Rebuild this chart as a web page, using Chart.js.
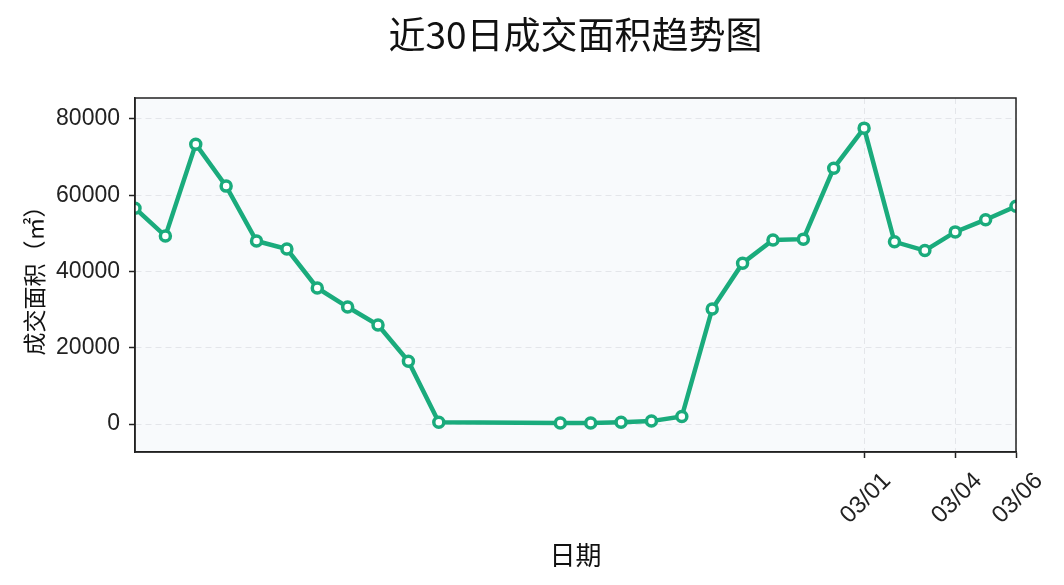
<!DOCTYPE html>
<html>
<head>
<meta charset="utf-8">
<script src="https://cdn.jsdelivr.net/npm/chart.js@4.4.1/dist/chart.umd.min.js"></script>
<style>
    html, body { margin: 0; background: #fff; }
</style>
</head>
<body>
<canvas id="trendChart" width="1064" height="585"></canvas>
<script>
// 近30日成交面积 (㎡)，春节期间 02/16-02/18 无数据
const dates = ['02/05', '02/06', '02/07', '02/08', '02/09', '02/10', '02/11', '02/12', '02/13', '02/14', '02/15',
    '02/19', '02/20', '02/21', '02/22', '02/23', '02/24', '02/25', '02/26', '02/27', '02/28',
    '03/01', '03/02', '03/03', '03/04', '03/05', '03/06'];
const areas = [56600, 49300, 73400, 62400, 48000, 45900, 35700, 30700, 26000, 16500, 500,
    300, 300, 500, 800, 2000, 30200, 42200, 48300, 48500, 67100,
    77600, 47800, 45500, 50400, 53600, 57100];
const xTickDates = ['03/01', '03/04', '03/06'];
const yTicks = [0, 20000, 40000, 60000, 80000];
const yRange = [-7300, 85500];
const YEAR = 2025;
const TITLE = '近30日成交面积趋势图';

const GREEN = '#1aab7c';
const AXIS = '#222222';
const GRID = '#e4e6ea';
const LATIN = '"Liberation Sans", Arial, sans-serif';
const CJK = '"Noto Sans CJK SC", "Noto Sans", sans-serif';

const dayNum = s => {
    const [m, d] = s.split('/').map(Number);
    return Date.UTC(YEAR, m - 1, d) / 86400000;
};
const fmtDay = n => {
    const dt = new Date(n * 86400000);
    return String(dt.getUTCMonth() + 1).padStart(2, '0') + '/' + String(dt.getUTCDate()).padStart(2, '0');
};

const points = dates.map((d, i) => ({ x: dayNum(d), y: areas[i] }));

// 绘图区底色、四周边框、居中标题
const plotFrame = {
    id: 'plotFrame',
    beforeDraw: (chart) => {
        const { ctx, chartArea: a } = chart;
        ctx.save();
        ctx.fillStyle = '#f8fafc';
        ctx.fillRect(a.left, a.top, a.width, a.height);
        ctx.restore();
    },
    afterDraw: (chart) => {
        const { ctx, chartArea: a } = chart;
        ctx.save();
        ctx.strokeStyle = AXIS;
        ctx.lineWidth = 1.5;
        ctx.strokeRect(a.left, a.top, a.width, a.height);
        ctx.fillStyle = '#111';
        ctx.font = `37px ${CJK}`;
        ctx.textAlign = 'center';
        ctx.textBaseline = 'middle';
        ctx.fillText(TITLE, (a.left + a.right) / 2, 35);
        ctx.restore();
    }
};

new Chart(document.getElementById('trendChart'), {
    type: 'line',
    data: {
        datasets: [{
            label: '成交面积',
            data: points,
            borderColor: GREEN,
            borderWidth: 4.5,
            pointRadius: 5,
            pointBorderWidth: 3.5,
            pointBackgroundColor: '#ffffff',
            pointBorderColor: GREEN,
            tension: 0
        }]
    },
    options: {
        responsive: false,
        animation: false,
        layout: { padding: { left: 0, right: 48, top: 98, bottom: 0 } },
        plugins: {
            legend: { display: false },
            tooltip: { enabled: false },
            title: { display: false }
        },
        scales: {
            x: {
                type: 'linear',
                min: dayNum(dates[0]),
                max: dayNum(dates[dates.length - 1]),
                afterBuildTicks: (scale) => { scale.ticks = xTickDates.map(d => ({ value: dayNum(d) })); },
                afterFit: (scale) => { scale.height = 133; },
                ticks: {
                    autoSkip: false,
                    minRotation: 45,
                    maxRotation: 45,
                    labelOffset: 23,
                    padding: 9,
                    color: AXIS,
                    font: { family: LATIN, size: 24 },
                    callback: (v) => fmtDay(v)
                },
                grid: { color: GRID, tickColor: AXIS, tickLength: 6, tickWidth: 1.5 },
                border: { color: AXIS, width: 1.5, dash: [6, 4] },
                title: {
                    display: true,
                    text: '日期',
                    color: '#111',
                    font: { family: CJK, size: 26 },
                    padding: { top: 0, bottom: 14 }
                }
            },
            y: {
                min: yRange[0],
                max: yRange[1],
                afterBuildTicks: (scale) => { scale.ticks = yTicks.map(v => ({ value: v })); },
                afterFit: (scale) => { scale.width = 135; },
                ticks: {
                    padding: 9,
                    color: AXIS,
                    font: { family: LATIN, size: 23 },
                    callback: (v) => String(v)
                },
                grid: { color: GRID, tickColor: AXIS, tickLength: 6, tickWidth: 1.5 },
                border: { color: AXIS, width: 1.5, dash: [6, 4] },
                title: {
                    display: true,
                    text: '成交面积（㎡）',
                    color: '#111',
                    font: { family: CJK, size: 23 },
                    padding: { top: 20, bottom: 0 }
                }
            }
        }
    },
    plugins: [plotFrame]
});
</script>
</body>
</html>
